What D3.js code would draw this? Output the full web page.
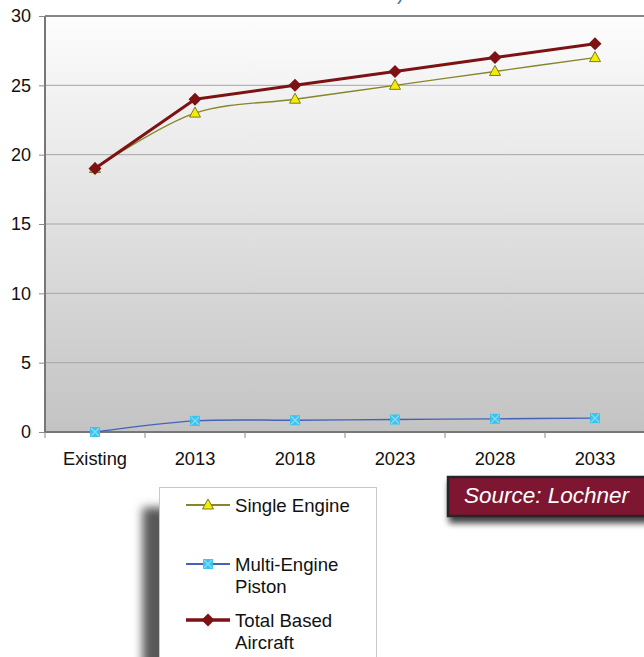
<!DOCTYPE html>
<html>
<head>
<meta charset="utf-8">
<script src="https://cdn.jsdelivr.net/npm/d3@7"></script>
<style>
  html, body { margin: 0; padding: 0; background: #ffffff; }
  svg { display: block; font-family: "Liberation Sans", Arial, sans-serif; }
</style>
</head>
<body>
<svg id="chart" width="644" height="657"></svg>
<script>
// Based aircraft forecast
const categories = ["Existing", "2013", "2018", "2023", "2028", "2033"];
const singleEngine = [19, 23, 24, 25, 26, 27];
const multiEnginePiston = [0, 0.8, 0.85, 0.9, 0.95, 1.0];
const totalBased = [19, 24, 25, 26, 27, 28];
const yTicks = [0, 5, 10, 15, 20, 25, 30];
const seriesNames = ["Single Engine", "Multi-Engine\nPiston", "Total Based\nAircraft"];
const sourceText = "Source: Lochner";

const svg = d3.select("#chart");
const plot = { left: 45, right: 645, top: 16, bottom: 432 };

const x = d3.scaleBand().domain(categories).range([plot.left, plot.right]).padding(0);
const y = d3.scaleLinear().domain([0, 30]).range([plot.bottom, plot.top]);
const cx = c => x(c) + x.bandwidth() / 2;

const defs = svg.append("defs");
const grad = defs.append("linearGradient")
  .attr("id", "plotBg").attr("x1", 0).attr("y1", 0).attr("x2", 0).attr("y2", 1);
grad.append("stop").attr("offset", "0%").attr("stop-color", "#fdfdfd");
grad.append("stop").attr("offset", "100%").attr("stop-color", "#c3c3c3");

const legendShadow = defs.append("filter").attr("id", "legendShadow")
  .attr("x", "-30%").attr("y", "-30%").attr("width", "160%").attr("height", "160%");
legendShadow.append("feGaussianBlur").attr("stdDeviation", 5);

const boxShadow = defs.append("filter").attr("id", "boxShadow")
  .attr("x", "-20%").attr("y", "-40%").attr("width", "140%").attr("height", "200%");
boxShadow.append("feGaussianBlur").attr("in", "SourceAlpha").attr("stdDeviation", 3).attr("result", "b");
boxShadow.append("feOffset").attr("in", "b").attr("dx", 2).attr("dy", 6).attr("result", "o");
boxShadow.append("feComponentTransfer").attr("in", "o").attr("result", "s")
  .append("feFuncA").attr("type", "linear").attr("slope", 0.75);
const bm = boxShadow.append("feMerge");
bm.append("feMergeNode").attr("in", "s");
bm.append("feMergeNode").attr("in", "SourceGraphic");

// title fragment at the top edge
svg.append("text")
  .attr("x", 397).attr("y", 0)
  .attr("font-size", 20).attr("fill", "#3b78b6")
  .text(")");

// plot area
svg.append("rect")
  .attr("x", plot.left).attr("y", plot.top)
  .attr("width", plot.right - plot.left).attr("height", plot.bottom - plot.top)
  .attr("fill", "url(#plotBg)");

// horizontal gridlines
svg.append("g").selectAll("line")
  .data(yTicks.filter(t => t > 0 && t < 30))
  .join("line")
  .attr("x1", plot.left).attr("x2", plot.right)
  .attr("y1", d => y(d)).attr("y2", d => y(d))
  .attr("stroke", "#a6a6a6").attr("stroke-width", 1);

// top border of the plot
svg.append("line")
  .attr("x1", plot.left).attr("x2", plot.right)
  .attr("y1", y(30)).attr("y2", y(30))
  .attr("stroke", "#858585").attr("stroke-width", 2);

// y axis
const yAxis = svg.append("g")
  .attr("transform", `translate(${plot.left},0)`)
  .call(d3.axisLeft(y).tickValues(yTicks).tickSize(6).tickPadding(8));
yAxis.select(".domain").attr("stroke", "#777").attr("stroke-width", 2)
  .attr("d", `M0,${plot.top}V${plot.bottom}`);
yAxis.selectAll(".tick line").attr("stroke", "#8a8a8a");
yAxis.selectAll(".tick text").attr("font-size", 18).attr("fill", "#111")
  .attr("font-family", "Liberation Sans, Arial, sans-serif");

// x axis
const xAxis = svg.append("g")
  .attr("transform", `translate(0,${plot.bottom})`)
  .call(d3.axisBottom(x).tickSize(0).tickPadding(20));
xAxis.select(".domain").attr("stroke", "#777").attr("stroke-width", 2)
  .attr("d", `M${plot.left},0H${plot.right}`);
xAxis.selectAll(".tick text").attr("font-size", 18.3).attr("fill", "#111")
  .attr("font-family", "Liberation Sans, Arial, sans-serif");
// category boundary ticks
const bounds = categories.map(c => x(c)).concat([x(categories[categories.length - 1]) + x.bandwidth()]);
xAxis.append("g").selectAll("line").data(bounds).join("line")
  .attr("x1", d => d).attr("x2", d => d).attr("y1", 0).attr("y2", 6)
  .attr("stroke", "#8a8a8a");

// series
const series = [
  { name: seriesNames[0], values: singleEngine, color: "#86862a", width: 1.4, curve: d3.curveCatmullRom.alpha(0.5), marker: "triangle" },
  { name: seriesNames[1], values: multiEnginePiston, color: "#4463b8", width: 1.4, curve: d3.curveCatmullRom.alpha(0.5), marker: "square" },
  { name: seriesNames[2], values: totalBased, color: "#7d1214", width: 3, curve: d3.curveLinear, marker: "diamond" }
];

function drawMarker(g, type, px, py) {
  if (type === "triangle") {
    g.append("path")
      .attr("d", `M${px},${py - 6}L${px + 5.5},${py + 4}L${px - 5.5},${py + 4}Z`)
      .attr("fill", "#f5ec00").attr("stroke", "#7c7c20").attr("stroke-width", 1);
  } else if (type === "square") {
    g.append("rect")
      .attr("x", px - 5).attr("y", py - 5).attr("width", 10).attr("height", 10)
      .attr("fill", "#3cc3ec");
    g.append("path")
      .attr("d", `M${px - 4},${py - 4}L${px + 4},${py + 4}M${px + 4},${py - 4}L${px - 4},${py + 4}`)
      .attr("stroke", "#8adcf5").attr("stroke-width", 1.2);
  } else {
    g.append("path")
      .attr("d", `M${px},${py - 6.5}L${px + 6.5},${py}L${px},${py + 6.5}L${px - 6.5},${py}Z`)
      .attr("fill", "#7d1214");
  }
}

series.forEach(s => {
  const line = d3.line()
    .x((d, i) => cx(categories[i]))
    .y(d => y(d))
    .curve(s.curve);
  svg.append("path")
    .datum(s.values)
    .attr("d", line)
    .attr("fill", "none")
    .attr("stroke", s.color)
    .attr("stroke-width", s.width)
    .attr("stroke-linejoin", "round");
});
series.forEach(s => {
  const g = svg.append("g");
  s.values.forEach((v, i) => drawMarker(g, s.marker, cx(categories[i]), y(v)));
});

// source box
const src = svg.append("g").attr("filter", "url(#boxShadow)");
src.append("rect")
  .attr("x", 448).attr("y", 477).attr("width", 210).attr("height", 39)
  .attr("fill", "#7e1431").attr("stroke", "#262626").attr("stroke-width", 2.5);
svg.append("text")
  .attr("x", 464).attr("y", 503)
  .attr("font-size", 22.5).attr("font-style", "italic").attr("fill", "#ffffff")
  .text(sourceText);

// legend
const lg = { x: 159.5, y: 487.5, w: 217, h: 190 };
svg.append("rect")
  .attr("x", lg.x - 17).attr("y", lg.y + 20).attr("width", lg.w).attr("height", lg.h)
  .attr("fill", "#595959").attr("filter", "url(#legendShadow)");
svg.append("rect")
  .attr("x", lg.x).attr("y", lg.y).attr("width", lg.w).attr("height", lg.h)
  .attr("fill", "#ffffff").attr("stroke", "#c8c8c8").attr("stroke-width", 1);

const rowY = [505, 564, 620];
series.forEach((s, i) => {
  const g = svg.append("g");
  const yy = rowY[i];
  g.append("line")
    .attr("x1", 186).attr("x2", 230).attr("y1", yy).attr("y2", yy)
    .attr("stroke", s.color).attr("stroke-width", i === 2 ? 3.5 : 2);
  drawMarker(g, s.marker, 208, yy);
  const lines = s.name.split("\n");
  const t = g.append("text")
    .attr("font-size", 18.6).attr("fill", "#111");
  lines.forEach((ln, k) => {
    t.append("tspan").attr("x", 235).attr("y", yy + 6.5 + k * 22).text(ln);
  });
});
</script>
</body>
</html>
